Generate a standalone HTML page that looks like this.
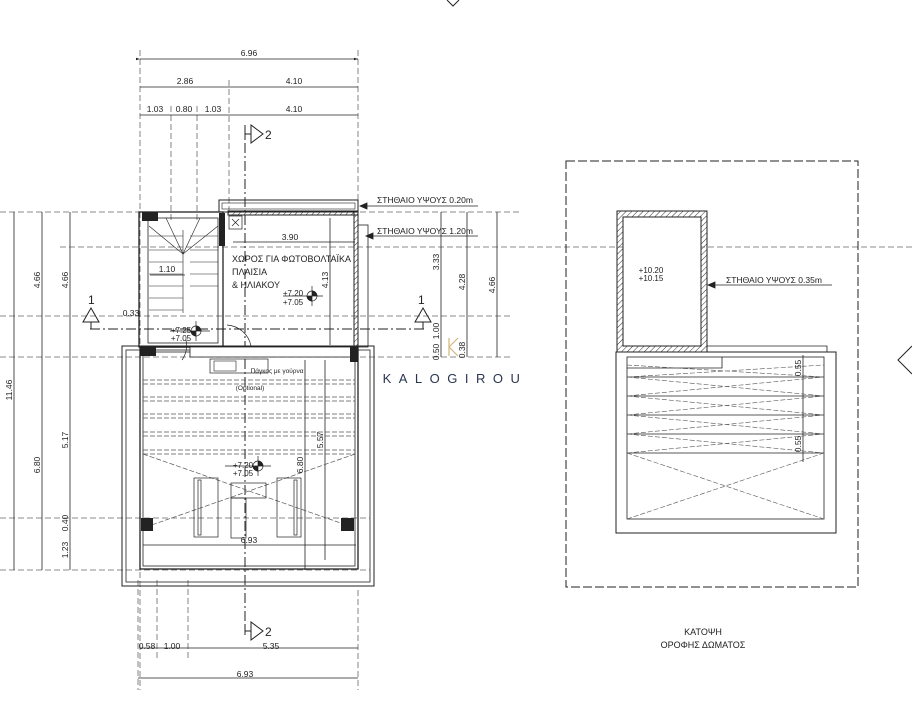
<!DOCTYPE html>
<html><head><meta charset="utf-8"><style>
html,body{margin:0;padding:0;background:#fff;}
svg{display:block;font-family:"Liberation Sans",sans-serif;}
</style></head><body>
<svg width="912" height="722" viewBox="0 0 912 722" xmlns="http://www.w3.org/2000/svg">
<defs>
<pattern id="h" width="4" height="4" patternUnits="userSpaceOnUse" patternTransform="rotate(45)">
<line x1="0" y1="0" x2="0" y2="4" stroke="#333" stroke-width="1"/></pattern>
<marker id="a" markerWidth="6" markerHeight="6" refX="5" refY="3" orient="auto"><path d="M0,1.5 L5,3 L0,4.5z" fill="#222"/></marker>
</defs>
<g stroke="#222" fill="none" stroke-width="1">
<!-- north arrow fragment -->
<path d="M447,0 L453,6 L459,0"/>
<!-- vertical extension dashed -->
<g stroke="#666" stroke-dasharray="6,3" stroke-width="0.8">
<line x1="140" y1="50" x2="140" y2="690"/>
<line x1="171" y1="106" x2="171" y2="220"/>
<line x1="197" y1="106" x2="197" y2="220"/>
<line x1="229" y1="80" x2="229" y2="212"/>
<line x1="358" y1="50" x2="358" y2="212"/>
<line x1="358" y1="590" x2="358" y2="690"/>
<line x1="157" y1="580" x2="157" y2="660"/>
<line x1="188" y1="580" x2="188" y2="660"/>
<line x1="138" y1="580" x2="138" y2="690"/>
<!-- horizontals -->
<line x1="0" y1="212" x2="520" y2="212"/>
<line x1="60" y1="247" x2="912" y2="247"/>
<line x1="0" y1="316" x2="510" y2="316"/>
<line x1="0" y1="357" x2="510" y2="357"/>
<line x1="0" y1="518" x2="370" y2="518"/>
<line x1="0" y1="570" x2="370" y2="570"/>
</g>
<!-- section line 2 -->
<line x1="245" y1="125" x2="245" y2="635" stroke-dasharray="10,3,2,3"/>
<path d="M245,140 v-6 h6 M251,125 v18 l12,-9z"/>
<path d="M245,625 v6 h6 M251,622 v18 l12,-9z"/>
<!-- section line 1 -->
<line x1="90" y1="329" x2="425" y2="329" stroke-dasharray="10,3,2,3"/>
<path d="M83,322 l8,-14 l8,14z M91,322 v7"/>
<path d="M415,322 l8,-14 l8,14z M423,322 v7"/>
<!-- top dims -->
<g stroke-width="0.8">
<line x1="140" y1="59" x2="358" y2="59" marker-end="url(#a)" marker-start="url(#a)"/>
<line x1="140" y1="87" x2="358" y2="87"/>
<line x1="140" y1="115" x2="358" y2="115"/>
<line x1="140" y1="648" x2="358" y2="648"/>
<line x1="138" y1="678" x2="358" y2="678"/>
<!-- left verticals -->
<line x1="14" y1="212" x2="14" y2="570"/>
<line x1="42" y1="212" x2="42" y2="570"/>
<line x1="70" y1="212" x2="70" y2="570"/>
<line x1="441" y1="212" x2="441" y2="357"/>
<line x1="467" y1="212" x2="467" y2="357"/>
<line x1="497" y1="212" x2="497" y2="357"/>
<line x1="330" y1="218" x2="330" y2="345"/>
<line x1="305" y1="360" x2="305" y2="570"/>
<line x1="325" y1="360" x2="325" y2="560"/>
<line x1="233" y1="242" x2="355" y2="242"/>
<line x1="143" y1="545" x2="356" y2="545"/>
<line x1="150" y1="275" x2="185" y2="275"/>
</g>
<!-- stair block -->
<rect x="139" y="212" width="84" height="135" stroke-width="1.3"/>
<rect x="148" y="218" width="70" height="125" stroke-width="0.8"/>
<g stroke-width="0.6">
<line x1="149" y1="236" x2="183" y2="236"/><line x1="149" y1="250" x2="183" y2="250"/>
<line x1="149" y1="262" x2="183" y2="262"/><line x1="149" y1="274" x2="183" y2="274"/>
<line x1="149" y1="286" x2="183" y2="286"/><line x1="149" y1="298" x2="183" y2="298"/>
<line x1="149" y1="310" x2="183" y2="310"/>
<line x1="183" y1="230" x2="183" y2="313"/>
<line x1="190" y1="236" x2="218" y2="236"/><line x1="190" y1="250" x2="218" y2="250"/>
<line x1="190" y1="262" x2="218" y2="262"/><line x1="190" y1="274" x2="218" y2="274"/>
<line x1="190" y1="286" x2="218" y2="286"/>
<path d="M149,226 L183,254 L218,226 M166,218 L183,254 L200,218"/>
</g>
<!-- PV area -->
<rect x="219" y="200" width="139" height="12"/>
<rect x="222" y="203" width="133" height="6" stroke-width="0.6"/>
<rect x="228" y="211" width="130" height="4" fill="url(#h)"/>
<rect x="354" y="211" width="4" height="135" fill="url(#h)"/>
<rect x="358" y="225" width="10" height="122" stroke-width="0.8"/>
<rect x="229" y="216" width="13" height="13" stroke-width="0.7"/>
<path d="M232,219 l7,7 M239,219 l-7,7" stroke-width="0.7"/>
<path d="M227,325 A26,26 0 0 1 251,346" stroke-width="0.7"/>
<path d="M182,360 A26,26 0 0 0 186,340" stroke-width="0.7"/>
<!-- lower room -->
<rect x="122" y="346" width="252" height="240" stroke-width="1"/>
<rect x="126" y="350" width="244" height="232" stroke-width="0.8"/>
<rect x="140" y="347" width="218" height="222" stroke-width="1.3"/>
<rect x="143" y="352" width="212" height="214" stroke-width="0.8"/>
<rect x="190" y="347" width="168" height="10" fill="#fff" stroke-width="0.8"/>
<rect x="210" y="359" width="58" height="14" stroke-width="0.7"/>
<rect x="214" y="361" width="22" height="10" stroke-width="0.6"/>
<g stroke="#555" stroke-dasharray="5,2" stroke-width="0.7">
<line x1="143" y1="380" x2="355" y2="380"/><line x1="143" y1="384" x2="355" y2="384"/>
<line x1="143" y1="397" x2="355" y2="397"/><line x1="143" y1="401" x2="355" y2="401"/>
<line x1="143" y1="414" x2="355" y2="414"/><line x1="143" y1="418" x2="355" y2="418"/>
<line x1="143" y1="432" x2="355" y2="432"/><line x1="143" y1="436" x2="355" y2="436"/>
<line x1="143" y1="450" x2="355" y2="450"/><line x1="143" y1="454" x2="355" y2="454"/>
<line x1="143" y1="454" x2="355" y2="528"/><line x1="355" y1="454" x2="143" y2="528"/>
</g>
<g stroke-width="0.7">
<rect x="194" y="478" width="24" height="59"/><rect x="198" y="480" width="3" height="55"/>
<rect x="277" y="478" width="24" height="59"/><rect x="294" y="480" width="3" height="55"/>
<rect x="231" y="483" width="35" height="15"/><rect x="231" y="498" width="15" height="40"/>
</g>
</g>
<!-- columns -->
<g fill="#222">
<rect x="142" y="212" width="16" height="9"/>
<rect x="219" y="213" width="6" height="33"/>
<rect x="140" y="346" width="16" height="10"/>
<rect x="350" y="346" width="8" height="16"/>
<rect x="141" y="518" width="12" height="13"/>
<rect x="341" y="518" width="13" height="13"/>
</g>
<!-- level markers -->
<g stroke="#222" stroke-width="0.7">
<line x1="283" y1="296" x2="323" y2="296"/><line x1="312" y1="286" x2="312" y2="306"/>
<circle cx="312" cy="296" r="5" fill="#fff"/><path d="M312,291 A5,5 0 0 1 317,296 L312,296z M312,296 L312,301 A5,5 0 0 1 307,296z" fill="#222"/>
<line x1="170" y1="331" x2="210" y2="331"/><line x1="196" y1="321" x2="196" y2="341"/>
<circle cx="196" cy="331" r="5" fill="#fff"/><path d="M196,326 A5,5 0 0 1 201,331 L196,331z M196,331 L196,336 A5,5 0 0 1 191,331z" fill="#222"/>
<line x1="225" y1="466" x2="271" y2="466"/><line x1="258" y1="456" x2="258" y2="476"/>
<circle cx="258" cy="466" r="5" fill="#fff"/><path d="M258,461 A5,5 0 0 1 263,466 L258,466z M258,466 L258,471 A5,5 0 0 1 253,466z" fill="#222"/>
<line x1="633" y1="273" x2="680" y2="273"/><line x1="668" y1="262" x2="668" y2="284"/>
<circle cx="668" cy="273" r="5" fill="#fff"/><path d="M668,268 A5,5 0 0 1 673,273 L668,273z M668,273 L668,278 A5,5 0 0 1 663,273z" fill="#222"/>
</g>
<!-- leaders -->
<g stroke="#222" stroke-width="0.8">
<line x1="360" y1="206" x2="478" y2="206"/><path d="M360,206 l7,-3 v6z" fill="#222"/>
<line x1="366" y1="236" x2="478" y2="236"/><path d="M366,236 l7,-3 v6z" fill="#222"/>
<line x1="708" y1="285" x2="832" y2="285"/><path d="M708,285 l7,-3 v6z" fill="#222"/>
</g>
<!-- right plan -->
<g stroke="#222" fill="none">
<rect x="566" y="161" width="292" height="426" stroke-dasharray="9,3" stroke-width="1"/>
<rect x="617" y="211" width="90" height="141" fill="url(#h)"/>
<rect x="623" y="217" width="78" height="129" fill="#fff"/>
<rect x="616" y="352" width="220" height="181" stroke-width="1"/>
<path d="M707,346 H827 V352" stroke-width="0.8"/>
<rect x="627" y="357" width="197" height="162" stroke-width="0.8"/>
<path d="M627,368 H722 V357" stroke-width="0.8"/>
<g stroke-width="0.8">
<line x1="627" y1="377" x2="824" y2="377"/><line x1="627" y1="396" x2="824" y2="396"/>
<line x1="627" y1="415" x2="824" y2="415"/><line x1="627" y1="434" x2="824" y2="434"/>
<line x1="627" y1="453" x2="824" y2="453"/>
<line x1="803" y1="355" x2="803" y2="462"/>
</g>
<g stroke="#555" stroke-dasharray="5,2" stroke-width="0.6">
<path d="M627,377 L824,365 M627,365 L824,377"/>
<path d="M627,377 L824,396 M627,396 L824,377"/>
<path d="M627,396 L824,415 M627,415 L824,396"/>
<path d="M627,415 L824,434 M627,434 L824,415"/>
<path d="M627,434 L824,453 M627,453 L824,434"/>
<path d="M627,453 L824,519 M627,519 L824,453"/>
</g>
<path d="M912,346 L898,360 L912,374" stroke-width="1"/>
</g>
<!-- text -->
<g fill="#222" font-size="8.5" text-anchor="middle">
<text x="249" y="56">6.96</text>
<text x="185" y="84">2.86</text><text x="294" y="84">4.10</text>
<text x="155" y="112">1.03</text><text x="184" y="112">0.80</text><text x="213" y="112">1.03</text><text x="294" y="112">4.10</text>
<text x="147" y="649">0.58</text><text x="172" y="649">1.00</text><text x="271" y="649">5.35</text>
<text x="245" y="677">6.93</text>
<text x="290" y="240">3.90</text>
<text x="167" y="272">1.10</text>
<text x="131" y="316">0.33</text>
<text x="249" y="543">6.93</text>
<text x="277" y="373" font-size="6.5">Πάγκος με γούρνα</text>
<text x="250" y="390" font-size="6.5">(Optional)</text>
<text x="293" y="296" font-size="8">+7.20</text><text x="293" y="305" font-size="8">+7.05</text>
<text x="181" y="333" font-size="8">+7.25</text><text x="181" y="341" font-size="8">+7.05</text>
<text x="243" y="468" font-size="8">+7.20</text><text x="243" y="476" font-size="8">+7.05</text>
<text x="651" y="273" font-size="8">+10.20</text><text x="651" y="281" font-size="8">+10.15</text>
</g>
<g fill="#222" font-size="8.5" text-anchor="middle">
<text transform="translate(12,390) rotate(-90)">11.46</text>
<text transform="translate(40,280) rotate(-90)">4.66</text>
<text transform="translate(68,280) rotate(-90)">4.66</text>
<text transform="translate(40,465) rotate(-90)">6.80</text>
<text transform="translate(68,440) rotate(-90)">5.17</text>
<text transform="translate(68,523) rotate(-90)">0.40</text>
<text transform="translate(68,550) rotate(-90)">1.23</text>
<text transform="translate(328,280) rotate(-90)">4.13</text>
<text transform="translate(303,465) rotate(-90)">6.80</text>
<text transform="translate(323,440) rotate(-90)">5.57</text>
<text transform="translate(439,262) rotate(-90)">3.33</text>
<text transform="translate(439,331) rotate(-90)">1.00</text>
<text transform="translate(439,352) rotate(-90)">0.50</text>
<text transform="translate(465,282) rotate(-90)">4.28</text>
<text transform="translate(465,350) rotate(-90)">0.38</text>
<text transform="translate(495,285) rotate(-90)">4.66</text>
<text transform="translate(801,368) rotate(-90)">0.55</text>
<text transform="translate(801,444) rotate(-90)">0.55</text>
</g>
<g fill="#222" font-size="9">
<text x="232" y="262">ΧΩΡΟΣ ΓΙΑ ΦΩΤΟΒΟΛΤΑΪΚΑ</text>
<text x="232" y="275">ΠΛΑΙΣΙΑ</text>
<text x="232" y="288">&amp; ΗΛΙΑΚΟΥ</text>
<text x="377" y="203" font-size="8.5">ΣΤΗΘΑΙΟ ΥΨΟΥΣ 0.20m</text>
<text x="377" y="234" font-size="8.5">ΣΤΗΘΑΙΟ ΥΨΟΥΣ 1.20m</text>
<text x="726" y="283" font-size="8.5">ΣΤΗΘΑΙΟ ΥΨΟΥΣ 0.35m</text>
<text x="88" y="304" font-size="12">1</text>
<text x="418" y="304" font-size="12">1</text>
<text x="265" y="139" font-size="12">2</text>
<text x="265" y="636" font-size="12">2</text>
<text x="703" y="635" font-size="9" text-anchor="middle">ΚΑΤΟΨΗ</text>
<text x="703" y="648" font-size="9" text-anchor="middle">ΟΡΟΦΗΣ ΔΩΜΑΤΟΣ</text>
</g>
<path d="M449,338 L449,356 M449,347 L458,338 M449,347 L458,356" stroke="#d4b57a" stroke-width="1.2" fill="none"/>
<text x="455" y="383" fill="#2a3550" font-size="13" text-anchor="middle" letter-spacing="7.5">KALOGIROU</text>
</svg>
</body></html>
